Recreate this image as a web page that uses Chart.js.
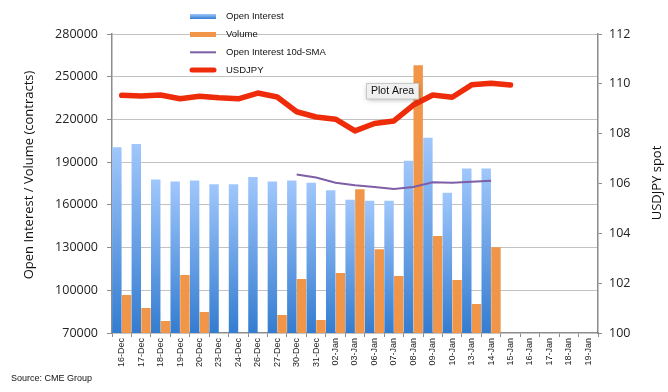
<!DOCTYPE html>
<html>
<head>
<meta charset="utf-8">
<script src="https://cdn.jsdelivr.net/npm/chart.js@4.4.1/dist/chart.umd.min.js"></script>
<style>
  html, body { margin: 0; padding: 0; background: #fff; }
  #wrap { width: 668px; height: 392px; }
</style>
</head>
<body>
<div id="wrap"><canvas id="myChart" width="668" height="392"></canvas></div>
<script>
// dates on the x axis
const days = ['16-Dec', '17-Dec', '18-Dec', '19-Dec', '20-Dec', '23-Dec', '24-Dec', '26-Dec', '27-Dec', '30-Dec', '31-Dec',
  '02-Jan', '03-Jan', '06-Jan', '07-Jan', '08-Jan', '09-Jan', '10-Jan', '13-Jan', '14-Jan', '15-Jan', '16-Jan', '17-Jan', '18-Jan', '19-Jan'];

const openInterest = [200500, 202700, 177800, 176400, 177100, 174400, 174400, 179500, 176400, 177100, 175600,
  170200, 163600, 162900, 162900, 191000, 207200, 168500, 185500, 185500, null, null, null, null, null];

const volume = [96700, 87500, 78400, 110700, 84700, null, null, null, 82600, 107900, 79100,
  112100, 171000, 128900, 110000, 258000, 138100, 107200, 90300, 130300, null, null, null, null, null];

const oiSma = [null, null, null, null, null, null, null, null, null, 181300, 179200,
  175500, 173800, 172600, 171200, 172600, 175900, 175500, 176200, 176900, null, null, null, null, null];

const usdjpy = [109.54, 109.51, 109.55, 109.40, 109.50, 109.44, 109.40, 109.63, 109.47, 108.88, 108.67,
  108.58, 108.11, 108.41, 108.51, 109.15, 109.55, 109.46, 109.96, 110.02, 109.95, null, null, null, null];

const leftTicks = [70000, 100000, 130000, 160000, 190000, 220000, 250000, 280000];
const rightTicks = [100, 102, 104, 106, 108, 110, 112];

const axisGray = '#8c8c8c';
const blueTop = 'rgb(160,199,252)';
const blueBottom = 'rgb(52,124,208)';
const orange = 'rgb(241,150,72)';
const purple = 'rgb(126,94,166)';
const red = 'rgb(238,44,10)';

function blueFill(c) {
  const chart = c.chart;
  const area = chart.chartArea;
  if (!area || c.type !== 'data' || c.raw == null) return blueBottom;
  const top = chart.scales.y.getPixelForValue(c.raw);
  const g = chart.ctx.createLinearGradient(0, top, 0, area.bottom);
  g.addColorStop(0, blueTop);
  g.addColorStop(1, blueBottom);
  return g;
}

// legend, axis titles, source note and the "Plot Area" hint
const extras = {
  id: 'extras',
  afterDraw(chart) {
    const ctx = chart.ctx;
    ctx.save();

    // legend
    const lx = 190, tx = 226;
    ctx.font = '9.5px "Liberation Sans", Arial, sans-serif';
    ctx.textBaseline = 'middle';
    const g = ctx.createLinearGradient(0, 14, 0, 19);
    g.addColorStop(0, blueTop);
    g.addColorStop(1, blueBottom);
    ctx.fillStyle = g;
    ctx.fillRect(lx, 14, 26, 5);
    ctx.fillStyle = orange;
    ctx.fillRect(lx, 32, 26, 5);
    ctx.strokeStyle = purple;
    ctx.lineWidth = 2;
    ctx.beginPath(); ctx.moveTo(lx, 52.3); ctx.lineTo(lx + 26, 52.3); ctx.stroke();
    ctx.strokeStyle = red;
    ctx.lineWidth = 5;
    ctx.lineCap = 'round';
    ctx.beginPath(); ctx.moveTo(lx + 2, 70); ctx.lineTo(lx + 24, 70); ctx.stroke();
    ctx.fillStyle = '#111';
    ctx.fillText('Open Interest', tx, 16.5);
    ctx.fillText('Volume', tx, 34);
    ctx.fillText('Open Interest 10d-SMA', tx, 52.3);
    ctx.fillText('USDJPY', tx, 70);

    // axis titles
    ctx.font = '13px "Open Sans", sans-serif';
    ctx.textAlign = 'center';
    ctx.save();
    ctx.translate(29, 175);
    ctx.rotate(-Math.PI / 2);
    ctx.fillText('Open Interest / Volume (contracts)', 0, 0);
    ctx.restore();
    ctx.save();
    ctx.translate(657, 183);
    ctx.rotate(-Math.PI / 2);
    ctx.fillText('USDJPY spot', 0, 0);
    ctx.restore();

    // source
    ctx.textAlign = 'left';
    ctx.font = '9px "Liberation Sans", Arial, sans-serif';
    ctx.fillText('Source: CME Group', 11, 379);

    // plot area hint box
    ctx.save();
    ctx.shadowColor = 'rgba(0,0,0,0.35)';
    ctx.shadowBlur = 5;
    ctx.shadowOffsetY = 1;
    ctx.fillStyle = '#f0f0f0';
    ctx.fillRect(366.5, 83.5, 52, 15.5);
    ctx.restore();
    ctx.strokeStyle = '#c9c9c9';
    ctx.lineWidth = 1;
    ctx.strokeRect(366.5, 83.5, 52, 15.5);
    ctx.fillStyle = '#111';
    ctx.font = '10.5px "Liberation Sans", Arial, sans-serif';
    ctx.fillText('Plot Area', 371, 91.5);

    ctx.restore();
  }
};

const ctx = document.getElementById('myChart').getContext('2d');
const myChart = new Chart(ctx, {
  type: 'bar',
  data: {
    labels: days,
    datasets: [
      { type: 'line', label: 'USDJPY', data: usdjpy, yAxisID: 'y2', borderColor: red, borderWidth: 5.5,
        pointRadius: 0, borderJoinStyle: 'round', borderCapStyle: 'round', tension: 0, order: 0 },
      { type: 'line', label: 'Open Interest 10d-SMA', data: oiSma, yAxisID: 'y', borderColor: purple, borderWidth: 2,
        pointRadius: 0, tension: 0, order: 1 },
      { label: 'Open Interest', data: openInterest, yAxisID: 'y', backgroundColor: blueFill, order: 2,
        categoryPercentage: 1, barPercentage: 0.97 },
      { label: 'Volume', data: volume, yAxisID: 'y', backgroundColor: orange, order: 2,
        categoryPercentage: 1, barPercentage: 0.97 }
    ]
  },
  options: {
    responsive: false,
    animation: false,
    layout: { padding: { top: 34, left: 0, right: 0, bottom: 0 } },
    plugins: { legend: { display: false }, tooltip: { enabled: false } },
    scales: {
      x: {
        offset: true,
        grid: { offset: true, drawOnChartArea: false, tickLength: 4, color: axisGray },
        border: { color: axisGray, width: 1.5 },
        ticks: { autoSkip: false, minRotation: 90, maxRotation: 90, padding: 1, color: '#222',
          font: { family: '"Liberation Sans", Arial, sans-serif', size: 9 } },
        afterFit: s => { s.height = 59; }
      },
      y: {
        position: 'left',
        min: 70000, max: 280000,
        afterBuildTicks: s => { s.ticks = leftTicks.map(v => ({ value: v })); },
        grid: {
          color: c => (c.tick && c.tick.value === 70000) ? 'rgba(0,0,0,0)' : '#c2c2c2',
          borderDash: [3, 3], tickBorderDash: [], tickColor: axisGray, tickLength: 5
        },
        border: { color: axisGray, width: 1.5 },
        ticks: { padding: 9, color: '#222', font: { family: '"Open Sans", sans-serif', size: 12.5 },
          callback: v => String(v) },
        afterFit: s => { s.width = 112; }
      },
      y2: {
        position: 'right',
        min: 100, max: 112,
        afterBuildTicks: s => { s.ticks = rightTicks.map(v => ({ value: v })); },
        grid: { drawOnChartArea: false, tickColor: axisGray, tickLength: 4 },
        border: { color: axisGray, width: 1.5 },
        ticks: { padding: 7, color: '#222', font: { family: '"Open Sans", sans-serif', size: 12.5 },
          callback: v => String(v) },
        afterFit: s => { s.width = 70; }
      }
    }
  },
  plugins: [extras]
});
</script>
</body>
</html>
